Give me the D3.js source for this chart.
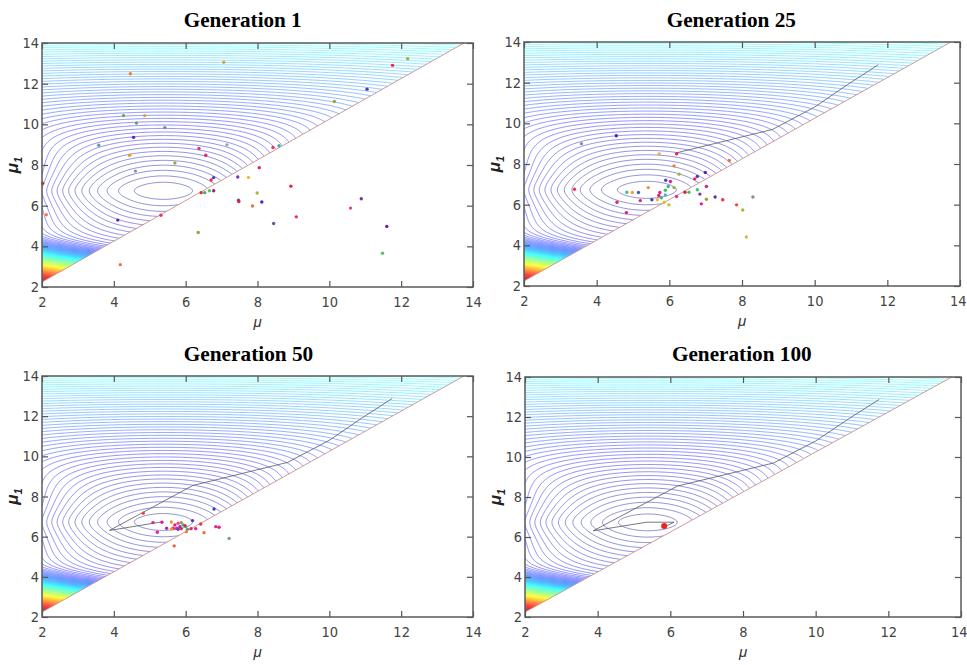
<!DOCTYPE html>
<html>
<head>
<meta charset="utf-8">
<script src="https://cdn.jsdelivr.net/npm/d3@7"></script>
<style>
body { margin: 0; background: #fff; }
svg { display: block; }
</style>
</head>
<body>
<div id="mainDiv"></div>
<script>

var axisTicks = [2, 4, 6, 8, 10, 12, 14];
var generationTitles = ["Generation 1", "Generation 25", "Generation 50", "Generation 100"];

// population of each generation, [mu, mu1]
var gen1Points = [[7.06,13.05],[4.46,12.49],[12.18,13.23],[11.76,12.9],[11.05,11.73],[10.14,11.12],
    [4.27,10.43],[4.86,10.43],[4.63,10.06],[5.42,9.84],[4.55,9.36],[3.58,8.97],[7.15,8.99],[6.37,8.81],
    [6.56,8.48],[4.44,8.48],[5.70,8.10],[4.60,7.70],[8.43,8.86],[8.60,8.95],[8.05,7.87],[7.45,7.41],
    [7.75,7.39],[6.78,7.38],[6.71,7.26],[6.78,6.73],[6.43,6.64],[6.53,6.64],[6.66,6.73],[8.93,6.96],
    [7.99,6.62],[7.47,6.27],[7.48,6.20],[8.12,6.18],[7.86,5.98],[10.89,6.34],[10.59,5.88],[9.08,5.45],
    [5.31,5.53],[4.11,5.29],[2.12,5.55],[8.45,5.12],[11.60,4.98],[6.35,4.68],[11.48,3.66],[4.18,3.10],
    [2.02,7.10]];
var gen1Colors = ["#e0a040","#f08030","#a0b040","#ff2040","#5030c0","#a0a040","#80a030","#e0a030",
    "#70a040","#6090b0","#6020c0","#60a0a0","#90b0a0","#e03080","#e02080","#e0a020","#90b030","#80a080",
    "#f03060","#40b0a0","#e02080","#8030c0","#e0c040","#4040c0","#f03040","#a02080","#e03030","#40b070",
    "#60c060","#f02040","#b0b040","#5060a0","#e02040","#5020c0","#f07040","#8030a0","#f04080","#f03050",
    "#f03060","#6020b0","#f08040","#5060a0","#6020b0","#80b040","#60c060","#f07040","#c04040"];

var gen25Points = [[4.54,9.39],[3.58,9.0],[3.39,6.76],[4.56,6.12],[4.82,5.61],[5.72,8.5],[6.2,8.5],
    [6.13,7.91],[6.27,7.5],[7.65,8.17],[6.99,7.58],[6.77,7.39],[6.70,7.27],[5.9,7.2],[6.03,7.14],
    [5.97,6.89],[6.13,6.84],[5.42,6.84],[4.83,6.61],[4.98,6.6],[5.15,6.6],[5.2,6.2],[5.52,6.24],
    [5.74,6.6],[5.71,6.45],[5.78,6.34],[5.67,6.24],[5.89,6.71],[5.89,6.48],[5.86,6.12],[5.99,5.99],
    [6.2,6.4],[6.43,6.61],[6.54,6.61],[6.77,6.73],[7.02,6.89],[6.84,6.52],[7.02,6.27],[7.26,6.38],
    [7.47,6.24],[6.88,6.04],[7.85,5.99],[8.02,5.74],[8.3,6.38],[8.12,4.41]];
var gen25Colors = ["#5020b0","#8090b0","#f03050","#e02080","#e02080","#f0b040","#f02040","#f08040",
    "#a0b040","#f07030","#6020b0","#6030c0","#f02050","#5040c0","#e020a0","#40b0a0","#a0b040","#f09040",
    "#40c0a0","#f0a030","#4060c0","#e02080","#4040c0","#e020a0","#f02060","#40b0a0","#e0c040","#40c060",
    "#40c0b0","#e0c020","#c0c040","#f03080","#e02040","#40c070","#40c080","#e02080","#8030c0","#a0a040",
    "#6030b0","#f03040","#e020a0","#f05030","#b0b040","#8090a0","#d0c040"];

var gen50Points = [[4.82,7.17],[6.79,7.38],[5.09,6.70],[5.34,6.72],[5.6,6.73],[5.47,6.42],[5.21,6.22],
    [5.65,6.42],[5.70,6.58],[5.79,6.67],[5.88,6.70],[5.84,6.5],[5.93,6.58],[5.75,6.42],[6.0,6.5],
    [5.88,6.4],[6.05,6.37],[6.19,6.8],[6.15,6.40],[6.28,6.4],[6.42,6.63],[6.02,6.25],[6.51,6.2],
    [6.84,6.5],[6.93,6.47],[7.21,5.91],[5.68,5.54],[5.61,6.39],[5.79,6.37],[5.98,6.55]];
var gen50Colors = ["#f04040","#4040c0","#e02090","#e020a0","#e0a030","#a030b0","#e020a0","#f02040",
    "#e02080","#f040a0","#a0a040","#8030c0","#40c060","#e020a0","#60c040","#f03040","#40b0a0","#6030b0",
    "#f02050","#e020a0","#f03040","#f08040","#f07030","#e020a0","#e02080","#70a090","#f06040","#f09040",
    "#6040c0","#e02080"];

var gen100Points = [[5.83,6.55]];
var gen100Colors = ["#ee2020"];

// best individual over the generations
var bestPath = [[11.75,12.88],[10.9,11.9],[10.0,10.8],[8.84,9.7],[6.2,8.55],[3.88,6.31],[5.35,6.74],[6.1,6.74],[5.85,6.52]];
var pathShown = [0, 5, 7, 9];

// objective surface (shape)
var optimum = [5.38, 6.73];
var feasibleOffset = 0.25;   // mu1 > mu + offset

function objective(x, y) {
    var dx = x - optimum[0];
    var dy = y - optimum[1];
    var dy2 = dy * dy;
    var g = 3.0 * (Math.sqrt(dy2 + 0.09) - 0.3) + 0.465 * dy2;
    var h = dx * dx / (0.9 * (1 + 0.12 * dy2 + 0.01 * dy2 * dy2));
    var t = y + 0.27 * (x - 2);
    var z = (4.15 - t) / 0.2;
    var e = 52 * 0.2 * (z > 30 ? z : Math.log1p(Math.exp(z)));
    return 0.27 + g + h + e;
}

var jet = d3.scaleLinear()
    .domain([0, 0.125, 0.375, 0.625, 0.875, 1])
    .range(["#000084", "#0000ff", "#00ffff", "#ffff00", "#ff0000", "#800000"])
    .clamp(true);
var colourTop = 120;

var panels = [
    {left: 42, top: 43, right: 473, bottom: 287, tx: 242.7, ty: 27, tw: 118, pts: gen1Points, cols: gen1Colors},
    {left: 524, top: 42, right: 960, bottom: 286, tx: 731.3, ty: 26.5, tw: 129.3, pts: gen25Points, cols: gen25Colors},
    {left: 42, top: 376, right: 473, bottom: 617, tx: 248.5, ty: 360.5, tw: 129.6, pts: gen50Points, cols: gen50Colors},
    {left: 525, top: 377, right: 961, bottom: 617, tx: 741.8, ty: 360.5, tw: 139.7, pts: gen100Points, cols: gen100Colors}
];

// contour grid, computed once
var gridMin = 1.9, gridMax = 14.1, gridStep = 0.03;
var nGrid = Math.round((gridMax - gridMin) / gridStep) + 1;
var values = new Float64Array(nGrid * nGrid);
for (var j = 0; j < nGrid; j++) {
    for (var i = 0; i < nGrid; i++) {
        values[j * nGrid + i] = objective(gridMin + i * gridStep, gridMin + j * gridStep);
    }
}
var levels = d3.range(1, 170, 1);
var bands = d3.contours().size([nGrid, nGrid]).thresholds(levels)(values);

var svg = d3.select("#mainDiv").append("svg")
    .attr("width", 967).attr("height", 665);

var tickFont = "'Liberation Sans Narrow', 'DejaVu Sans Condensed', 'Arial Narrow', sans-serif";

panels.forEach(function (p, k) {

    var xs = d3.scaleLinear().domain([2, 14]).range([p.left, p.right]);
    var ys = d3.scaleLinear().domain([2, 14]).range([p.bottom, p.top]);

    var tri = [[2, 2 + feasibleOffset], [2, 14], [14 - feasibleOffset, 14]];

    svg.append("clipPath").attr("id", "clip" + k)
        .append("polygon")
        .attr("points", tri.map(function (d) { return xs(d[0]) + "," + ys(d[1]); }).join(" "));

    var proj = d3.geoTransform({
        point: function (px, py) {
            this.stream.point(xs(gridMin + (px - 0.5) * gridStep), ys(gridMin + (py - 0.5) * gridStep));
        }
    });
    var path = d3.geoPath(proj);

    svg.append("g").attr("clip-path", "url(#clip" + k + ")")
        .selectAll("path").data(bands).join("path")
        .attr("d", path)
        .attr("fill", "none")
        .attr("stroke", function (d) { return jet(d.value / colourTop); })
        .attr("stroke-opacity", 0.62)
        .attr("stroke-width", 0.7);

    // feasibility boundary
    svg.append("line")
        .attr("x1", xs(tri[0][0])).attr("y1", ys(tri[0][1]))
        .attr("x2", xs(tri[2][0])).attr("y2", ys(tri[2][1]))
        .attr("stroke", "#c89090").attr("stroke-width", 0.9);

    // best-so-far path
    if (pathShown[k] > 1) {
        svg.append("path")
            .attr("d", d3.line().x(function (d) { return xs(d[0]); }).y(function (d) { return ys(d[1]); })(bestPath.slice(0, pathShown[k])))
            .attr("fill", "none").attr("stroke", "#555566").attr("stroke-width", 0.8);
    }

    // population
    svg.append("g").selectAll("circle").data(p.pts).join("circle")
        .attr("cx", function (d) { return xs(d[0]); })
        .attr("cy", function (d) { return ys(d[1]); })
        .attr("r", k === 3 ? 3 : 1.7)
        .attr("fill", function (d, i) { return p.cols[i]; });

    // axes
    var axB = svg.append("g").attr("transform", "translate(0," + p.bottom + ")")
        .call(d3.axisBottom(xs).tickValues(axisTicks).tickSize(-6).tickPadding(10).tickFormat(d3.format("d")));
    var axL = svg.append("g").attr("transform", "translate(" + p.left + ",0)")
        .call(d3.axisLeft(ys).tickValues(axisTicks).tickSize(-6).tickPadding(3).tickFormat(d3.format("d")));
    var axT = svg.append("g").attr("transform", "translate(0," + p.top + ")")
        .call(d3.axisTop(xs).tickValues(axisTicks).tickSize(-6).tickFormat(""));
    var axR = svg.append("g").attr("transform", "translate(" + p.right + ",0)")
        .call(d3.axisRight(ys).tickValues(axisTicks).tickSize(-6).tickFormat(""));

    [axB, axL, axT, axR].forEach(function (a) {
        a.select(".domain").remove();
        a.selectAll(".tick line").attr("stroke", "#555").attr("stroke-width", 1.2);
        a.selectAll(".tick text").attr("fill", "#444").style("font-family", tickFont).style("font-size", "14.5px");
    });
    // keep the last x label inside the window on the right-hand panels
    if (p.right > 900) {
        axB.selectAll(".tick text").filter(function (d) { return d === 14; })
            .attr("text-anchor", "end").attr("dx", 6);
    }

    svg.append("rect")
        .attr("x", p.left).attr("y", p.top)
        .attr("width", p.right - p.left).attr("height", p.bottom - p.top)
        .attr("fill", "none").attr("stroke", "#5a5a5a").attr("stroke-width", 1.5);

    // labels
    svg.append("text")
        .attr("x", p.tx).attr("y", p.ty)
        .attr("text-anchor", "middle")
        .attr("textLength", p.tw).attr("lengthAdjust", "spacingAndGlyphs")
        .style("font-family", "'Liberation Serif', 'Times New Roman', serif")
        .style("font-weight", "bold").style("font-size", "22px")
        .text(generationTitles[k]);

    svg.append("text")
        .attr("x", (p.left + p.right) / 2).attr("y", p.bottom + 40)
        .attr("text-anchor", "middle")
        .style("font-family", "'Liberation Sans', sans-serif")
        .style("font-style", "italic").style("font-size", "15px").attr("fill", "#333")
        .text("μ");

    var yl = svg.append("text")
        .attr("transform", "translate(" + (p.left - 24) + "," + ((p.top + p.bottom) / 2) + ") rotate(-90)")
        .attr("text-anchor", "middle")
        .style("font-family", "'Liberation Sans', sans-serif")
        .style("font-weight", "bold").style("font-style", "italic").attr("fill", "#222");
    yl.append("tspan").style("font-size", "17px").text("μ");
    yl.append("tspan").style("font-size", "11px").attr("dy", 4).text("1");
});

</script>
</body>
</html>
